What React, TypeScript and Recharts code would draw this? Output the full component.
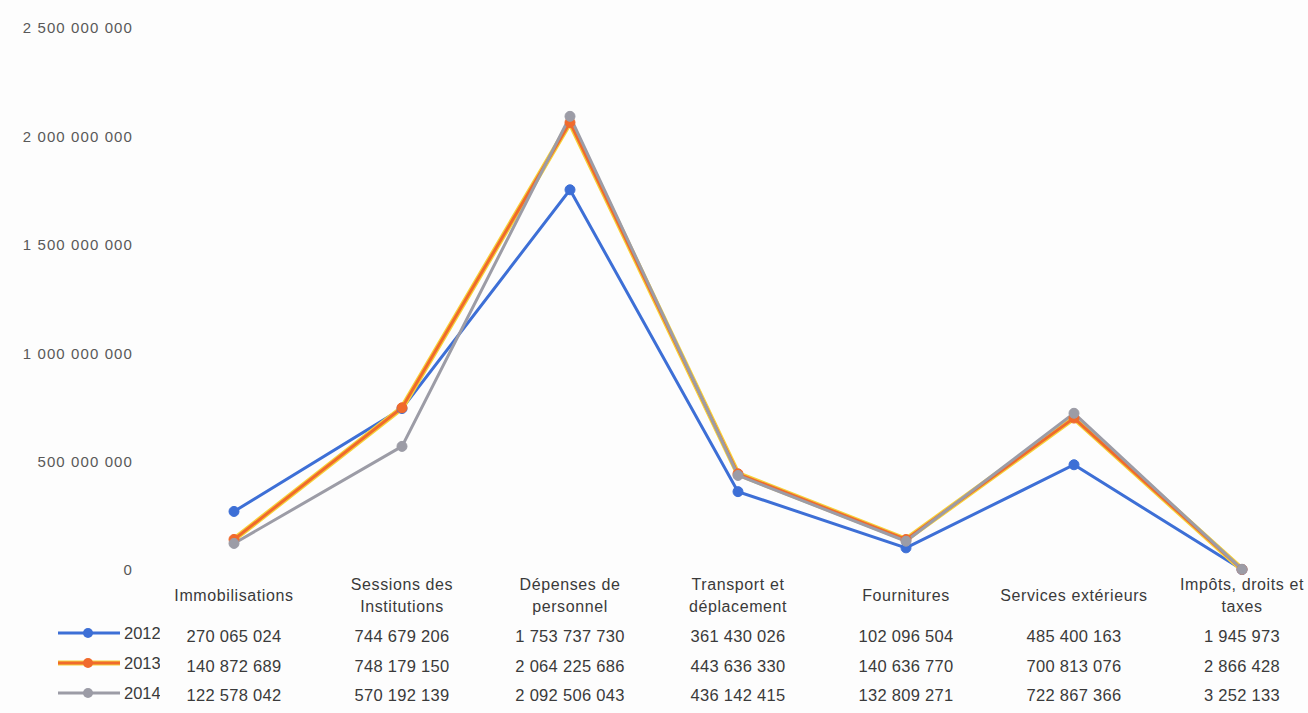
import { LineChart, Line, XAxis, YAxis, Legend } from "recharts";

const categories = [
  "Immobilisations",
  "Sessions des Institutions",
  "Dépenses de personnel",
  "Transport et déplacement",
  "Fournitures",
  "Services extérieurs",
  "Impôts, droits et taxes",
];

// how each category name is broken in the table
const categoryLines = [
  ["Immobilisations"],
  ["Sessions des", "Institutions"],
  ["Dépenses de", "personnel"],
  ["Transport et", "déplacement"],
  ["Fournitures"],
  ["Services extérieurs"],
  ["Impôts, droits et", "taxes"],
];

const values2012 = [270065024, 744679206, 1753737730, 361430026, 102096504, 485400163, 1945973];
const values2013 = [140872689, 748179150, 2064225686, 443636330, 140636770, 700813076, 2866428];
const values2014 = [122578042, 570192139, 2092506043, 436142415, 132809271, 722867366, 3252133];

const yTicks = [0, 500000000, 1000000000, 1500000000, 2000000000, 2500000000];

const seriesNames = ["2012", "2013", "2014"];
const seriesValues = [values2012, values2013, values2014];
const seriesColors: Record<string, string> = {
  "2012": "#3d6fd6",
  "2013": "#f06a2c",
  "2014": "#9c9ca6",
};

const data = categories.map((name, i) => ({
  name,
  "2012": values2012[i],
  "2013": values2013[i],
  "2014": values2014[i],
}));

const fmt = (n: number) => String(n).replace(/\B(?=(\d{3})+(?!\d))/g, " ");

const FONT = "'Liberation Sans', Arial, sans-serif";
const TEXT = "#3a3a3a";

const CategoryTick = (props: any) => {
  const { x, y, payload } = props;
  const i = categories.indexOf(payload.value);
  const lines = categoryLines[i] || [payload.value];
  return (
    <g fontFamily={FONT} fill={TEXT}>
      {lines.length === 1 ? (
        <text x={x} y={y + 31} textAnchor="middle" fontSize={16} letterSpacing={0.6}>
          {lines[0]}
        </text>
      ) : (
        lines.map((l, k) => (
          <text key={k} x={x} y={y + 20 + k * 22} textAnchor="middle" fontSize={16} letterSpacing={0.6}>
            {l}
          </text>
        ))
      )}
      {seriesValues.map((vals, r) => (
        <text key={r} x={x} y={y + 72 + r * 29.5} textAnchor="middle" fontSize={16.5} letterSpacing={0.3}>
          {fmt(vals[i])}
        </text>
      ))}
    </g>
  );
};

const LegendKeys = () => (
  <svg width={110} height={95}>
    {seriesNames.map((s, r) => {
      const cy = 12 + r * 30;
      return (
        <g key={s}>
          {s === "2013" && (
            <line x1={8} x2={70} y1={cy} y2={cy} stroke="#f5d23a" strokeWidth={5} />
          )}
          <line x1={8} x2={70} y1={cy} y2={cy} stroke={seriesColors[s]} strokeWidth={3} />
          <circle cx={38} cy={cy} r={5} fill={seriesColors[s]} />
          <text x={74} y={cy + 6} fontFamily={FONT} fontSize={16.5} fill={TEXT}>
            {s}
          </text>
        </g>
      );
    })}
  </svg>
);

export default function App() {
  return (
    <div
      style={{
        position: "absolute",
        left: 0,
        top: 0,
        width: 1308,
        height: 713,
        overflow: "hidden",
        background: "#fdfdfd",
      }}
    >
      <LineChart
        width={1340}
        height={713}
        data={data}
        margin={{ top: 28, right: 14, left: 0, bottom: 3 }}
      >
        <XAxis
          dataKey="name"
          axisLine={false}
          tickLine={false}
          interval={0}
          height={140}
          tickSize={0}
          tickMargin={0}
          padding={{ left: 84, right: 84 }}
          tick={<CategoryTick />}
        />
        <YAxis
          width={150}
          domain={[0, 2500000000]}
          ticks={yTicks}
          axisLine={false}
          tickLine={false}
          tickSize={0}
          tickMargin={17}
          tickFormatter={fmt}
          tick={{ fontFamily: FONT, fontSize: 15, fill: "#595959", letterSpacing: 1.1 }}
        />
        <Legend
          layout="vertical"
          align="center"
          verticalAlign="middle"
          wrapperStyle={{ left: 50, top: 621, width: 110 }}
          content={<LegendKeys />}
        />
        <Line
          dataKey="2012"
          stroke={seriesColors["2012"]}
          strokeWidth={3}
          dot={{ r: 5, fill: seriesColors["2012"], stroke: seriesColors["2012"], strokeWidth: 1 }}
          isAnimationActive={false}
        />
        <Line
          dataKey="2013"
          legendType="none"
          stroke="#f5d23a"
          strokeWidth={5.5}
          dot={false}
          activeDot={false}
          isAnimationActive={false}
        />
        <Line
          dataKey="2013"
          stroke={seriesColors["2013"]}
          strokeWidth={3}
          dot={{ r: 5, fill: seriesColors["2013"], stroke: seriesColors["2013"], strokeWidth: 1 }}
          isAnimationActive={false}
        />
        <Line
          dataKey="2014"
          stroke={seriesColors["2014"]}
          strokeWidth={3}
          dot={{ r: 5, fill: seriesColors["2014"], stroke: seriesColors["2014"], strokeWidth: 1 }}
          isAnimationActive={false}
        />
      </LineChart>
    </div>
  );
}
